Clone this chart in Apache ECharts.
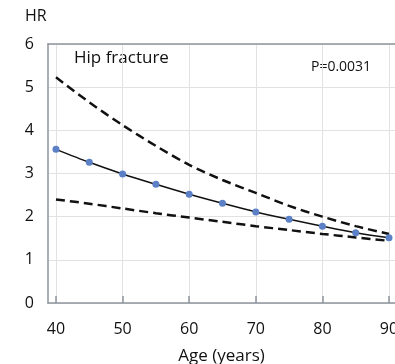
<!DOCTYPE html>
<html>
<head>
<meta charset="utf-8">
<script src="https://cdn.jsdelivr.net/npm/echarts@6/dist/echarts.min.js"></script>
<style>
  html, body { margin: 0; padding: 0; background: #fff; overflow: hidden; }
  #chart { width: 395px; height: 364px; }
</style>
</head>
<body>
<div id="chart"></div>
<script>
// Hazard ratio of hip fracture by age, with 95% confidence band
const ages = [40, 45, 50, 55, 60, 65, 70, 75, 80, 85, 90];
const hr = [3.56, 3.26, 2.99, 2.75, 2.52, 2.31, 2.11, 1.94, 1.78, 1.63, 1.51];
const upperCI = [5.23, 4.65, 4.12, 3.64, 3.20, 2.85, 2.55, 2.25, 2.00, 1.78, 1.60];
const lowerCI = [2.40, 2.30, 2.19, 2.08, 1.98, 1.88, 1.78, 1.69, 1.60, 1.52, 1.44];
const xTicks = [40, 50, 60, 70, 80, 90];
const yTicks = [0, 1, 2, 3, 4, 5, 6];
const panelTitle = 'Hip fracture';
const pValue = 'P=0.0031';

const FONT = '"Open Sans", sans-serif';
const TEXT_COLOR = '#111';
const AXIS_COLOR = '#8d959d';
const GRID_COLOR = '#e2e2e2';

const pairs = (ys) => ages.map((a, i) => [a, ys[i]]);

const dashedStyle = { color: '#111', width: 2.5, type: [9, 5] };

const chart = echarts.init(document.getElementById('chart'));
chart.setOption({
  animation: false,
  grid: { left: 48, right: 0, top: 44, bottom: 61, outerBoundsMode: 'none', containLabel: false },
  xAxis: [{
    type: 'value',
    min: 38.8,
    max: 90.9,
    name: 'Age (years)',
    nameLocation: 'middle',
    nameGap: 45,
    nameTextStyle: { fontFamily: FONT, fontSize: 17, color: TEXT_COLOR },
    axisLine: { show: true, lineStyle: { color: AXIS_COLOR, width: 1.5 } },
    axisTick: { show: true, inside: true, length: 7, customValues: xTicks, lineStyle: { color: AXIS_COLOR, width: 1.5 } },
    axisLabel: { customValues: xTicks, margin: 18, fontFamily: FONT, fontSize: 16, color: TEXT_COLOR },
    splitLine: { show: true, lineStyle: { color: GRID_COLOR, width: 1 } }
  }, {
    type: 'value',
    position: 'top',
    min: 38.8,
    max: 90.9,
    axisLine: { show: true, lineStyle: { color: AXIS_COLOR, width: 1.5 } },
    axisTick: { show: false },
    axisLabel: { show: false },
    splitLine: { show: false }
  }],
  yAxis: {
    type: 'value',
    min: 0,
    max: 6,
    interval: 1,
    axisLine: { show: true, lineStyle: { color: AXIS_COLOR, width: 1.5 } },
    axisTick: { show: false },
    axisLabel: { customValues: yTicks, margin: 14, fontFamily: FONT, fontSize: 16, color: TEXT_COLOR },
    splitLine: { show: true, lineStyle: { color: GRID_COLOR, width: 1 } }
  },
  graphic: [
    { type: 'text', left: 25, top: 8, style: { text: 'HR', font: '16px ' + FONT, fill: TEXT_COLOR } },
    { type: 'text', left: 74, top: 50, style: { text: panelTitle, font: '17px ' + FONT, fill: TEXT_COLOR } },
    { type: 'text', left: 311, top: 60, style: { text: pValue, font: '14px ' + FONT, fill: TEXT_COLOR } }
  ],
  series: [
    {
      type: 'line', data: pairs(upperCI), showSymbol: false,
      lineStyle: dashedStyle, smooth: 0.3, z: 2
    },
    {
      type: 'line', data: pairs(lowerCI), showSymbol: false,
      lineStyle: dashedStyle, smooth: 0.3, z: 2
    },
    {
      type: 'line', data: pairs(hr), smooth: 0.3,
      symbol: 'circle', symbolSize: 7,
      lineStyle: { color: '#111', width: 1.5 },
      itemStyle: { color: '#5b80c6' }, z: 3
    }
  ]
});
</script>
</body>
</html>
